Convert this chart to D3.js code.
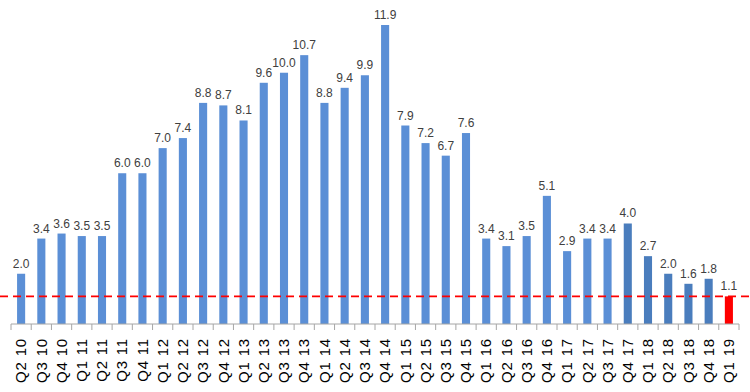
<!DOCTYPE html>
<html>
<head>
<meta charset="utf-8">
<script src="https://cdn.jsdelivr.net/npm/d3@7"></script>
<style>
body { margin: 0; background: #fff; }
</style>
</head>
<body>
<script>
const svgWidth = 750
const svgHeight = 392

const quarters = ["Q2 10","Q3 10","Q4 10","Q1 11","Q2 11","Q3 11","Q4 11","Q1 12","Q2 12","Q3 12","Q4 12",
    "Q1 13","Q2 13","Q3 13","Q4 13","Q1 14","Q2 14","Q3 14","Q4 14","Q1 15","Q2 15","Q3 15","Q4 15",
    "Q1 16","Q2 16","Q3 16","Q4 16","Q1 17","Q2 17","Q3 17","Q4 17","Q1 18","Q2 18","Q3 18","Q4 18","Q1 19"]
const values = [2.0,3.4,3.6,3.5,3.5,6.0,6.0,7.0,7.4,8.8,8.7,8.1,9.6,10.0,10.7,8.8,9.4,9.9,11.9,
    7.9,7.2,6.7,7.6,3.4,3.1,3.5,5.1,2.9,3.4,3.4,4.0,2.7,2.0,1.6,1.8,1.1]
const darkQuarters = ["Q4 17","Q1 18","Q2 18","Q3 18","Q4 18"]
const redQuarters = ["Q1 19"]
const thresholdValue = 1.1

const colorLight = "#5b8fd6"
const colorDark = "#4a7dbd"
const colorRed = "#ff0000"

const margin = { left: 11, right: 11, top: 0, bottom: 68 }
const baseY = svgHeight - margin.bottom

const svg = d3.select("body").append("svg")
    .attr("width", svgWidth)
    .attr("height", svgHeight)

const x = d3.scaleBand()
    .domain(quarters)
    .range([margin.left, svgWidth - margin.right])
    .paddingInner(0.6)
    .paddingOuter(0.3)

const y = d3.scaleLinear()
    .domain([0, 11.9])
    .range([baseY, 25])

const data = quarters.map((q, i) => ({ q, v: values[i] }))

function barColor(q) {
    if (redQuarters.includes(q)) return colorRed
    if (darkQuarters.includes(q)) return colorDark
    return colorLight
}

svg.selectAll("rect.bar")
    .data(data)
    .join("rect")
    .attr("class", "bar")
    .attr("x", d => x(d.q))
    .attr("width", x.bandwidth())
    .attr("y", d => y(d.v))
    .attr("height", d => baseY - y(d.v))
    .attr("fill", d => barColor(d.q))

svg.selectAll("text.val")
    .data(data)
    .join("text")
    .attr("class", "val")
    .attr("x", d => x(d.q) + x.bandwidth() / 2)
    .attr("y", d => y(d.v) - 6)
    .attr("text-anchor", "middle")
    .attr("font-family", "Liberation Sans, Arial, sans-serif")
    .attr("font-size", 12)
    .attr("fill", "#404040")
    .text(d => d.v.toFixed(1))

// x axis with ticks between categories
const step = x.step()
const axisG = svg.append("g").attr("transform", `translate(0, ${baseY})`)
axisG.append("line")
    .attr("x1", margin.left).attr("x2", svgWidth - margin.right)
    .attr("stroke", "#a6a6a6")
const tickPos = d3.range(quarters.length + 1).map(i => margin.left + i * step)
axisG.selectAll("line.tick")
    .data(tickPos)
    .join("line")
    .attr("class", "tick")
    .attr("x1", d => d).attr("x2", d => d)
    .attr("y1", 0).attr("y2", 6)
    .attr("stroke", "#a6a6a6")

axisG.selectAll("text.lab")
    .data(quarters)
    .join("text")
    .attr("class", "lab")
    .attr("transform", d => `translate(${x(d) + x.bandwidth() / 2}, 14) rotate(-90)`)
    .attr("text-anchor", "end")
    .attr("dy", "0.35em")
    .attr("font-family", "Liberation Sans, Arial, sans-serif")
    .attr("font-size", 15)
    .attr("letter-spacing", 0.8)
    .attr("fill", "#000")
    .text(d => d)

svg.append("line")
    .attr("x1", 0).attr("x2", svgWidth)
    .attr("y1", y(thresholdValue)).attr("y2", y(thresholdValue))
    .attr("stroke", colorRed)
    .attr("stroke-width", 1.8)
    .attr("stroke-dasharray", "8,5")
</script>
</body>
</html>
